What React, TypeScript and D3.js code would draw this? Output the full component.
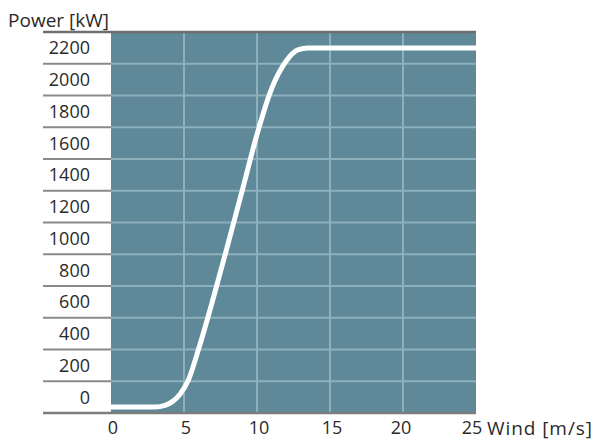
import React from "react";
import * as d3 from "d3";

const windSpeed = [0, 3.0, 3.7, 4.2, 4.7, 5.3, 6, 7, 8, 9, 10, 11, 12, 12.8, 13.5, 25];
const powerKW = [0, 0, 10, 33, 75, 165, 355, 665, 995, 1330, 1670, 1950, 2120, 2188, 2200, 2200];
const yTickLabels = ["0", "200", "400", "600", "800", "1000", "1200", "1400", "1600", "1800", "2000", "2200"];
const xTicks = [0, 5, 10, 15, 20, 25];
const xGrid = [5, 10, 15, 20];

const W = 595, H = 440;
const plotLeft = 111, plotRight = 476, plotTop = 32, plotBottom = 413;
const font = "'Open Sans', 'Noto Sans', sans-serif";

export default function App() {
  const x = d3.scaleLinear().domain([0, 25]).range([plotLeft, plotRight]);
  const yBand = d3.scaleBand<string>().domain(yTickLabels).range([plotBottom, plotTop]).paddingInner(0).paddingOuter(0);
  const y = d3.scaleLinear().domain([0, 2200]).range([407, 48]);
  const bw = yBand.bandwidth();
  const bounds = yTickLabels.map((t) => (yBand(t) as number));
  const line = d3
    .line<number>()
    .x((_, i) => x(windSpeed[i]))
    .y((d) => y(d))
    .curve(d3.curveMonotoneX);

  return (
    <svg width={W} height={H} style={{ position: "absolute", left: 0, top: 0, background: "#fff" }}>
      <rect x={plotLeft} y={plotTop} width={plotRight - plotLeft} height={plotBottom - plotTop} fill="#5f8999" />
      {bounds.slice(0, -1).map((b, i) => (
        <line key={"hg" + i} x1={plotLeft} x2={plotRight} y1={b} y2={b} stroke="#8db0bd" strokeWidth={2} />
      ))}
      {xGrid.map((v) => (
        <line key={"vg" + v} x1={x(v)} x2={x(v)} y1={plotTop} y2={plotBottom} stroke="#8db0bd" strokeWidth={2} />
      ))}
      {bounds.slice(0, -1).map((b, i) => (
        <line key={"sep" + i} x1={43} x2={plotLeft} y1={b} y2={b} stroke="#8a8a8a" strokeWidth={2} />
      ))}
      <line x1={43} x2={plotRight} y1={plotTop} y2={plotTop} stroke="#6e6e6e" strokeWidth={2.5} />
      <line x1={43} x2={plotRight} y1={plotBottom} y2={plotBottom} stroke="#7d7d7d" strokeWidth={2.5} />
      <path d={line(powerKW) || ""} fill="none" stroke="#ffffff" strokeWidth={5} strokeLinejoin="round" strokeLinecap="butt" />
      {yTickLabels.map((t) => (
        <text key={"yl" + t} x={90} y={(yBand(t) as number) + bw / 2} dy="0.36em" textAnchor="end" fontFamily={font} fontSize={18} fill="#2a2a2a">
          {t}
        </text>
      ))}
      {xTicks.map((v) => (
        <text key={"xl" + v} x={x(v) + (v === 25 ? -4 : v === 20 ? -2 : 2)} y={428} dy="0.36em" textAnchor="middle" fontFamily={font} fontSize={18} fill="#2a2a2a">
          {v}
        </text>
      ))}
      <text x={487} y={428} dy="0.36em" fontFamily={font} fontSize={19} fill="#2a2a2a" textLength={105} lengthAdjust="spacing">Wind [m/s]</text>
      <text x={8} y={20} dy="0.36em" fontFamily={font} fontSize={19} fill="#2a2a2a" textLength={101} lengthAdjust="spacing">Power [kW]</text>
    </svg>
  );
}
